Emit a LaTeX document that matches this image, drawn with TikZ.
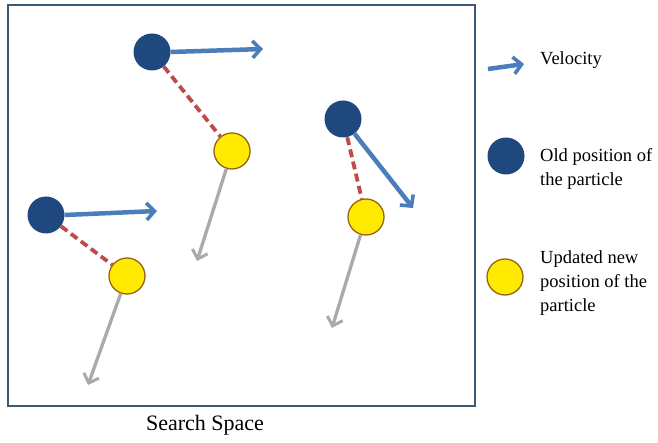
\documentclass[tikz,border=0pt]{standalone}
\usepackage{fontspec}
\setmainfont{Liberation Serif}
\usetikzlibrary{arrows.meta}
\definecolor{oldblue}{RGB}{30,72,126}
\definecolor{velblue}{RGB}{74,126,187}
\definecolor{dashred}{RGB}{190,75,72}
\definecolor{newyellow}{RGB}{255,234,0}
\definecolor{newrim}{RGB}{150,100,20}
\definecolor{movegray}{RGB}{170,170,170}
\definecolor{frame}{RGB}{60,88,120}
\tikzset{
  oldpos/.style={circle, fill=oldblue, inner sep=0pt, minimum size=37pt},
  newpos/.style={circle, fill=newyellow, draw=newrim, line width=1.3pt, inner sep=0pt, minimum size=36pt},
  velarrow/.style={velblue, line width=4.5pt, -{Straight Barb[length=8pt,width=17pt,line width=3.6pt]}},
  movearrow/.style={movegray, line width=3.3pt, -{Straight Barb[length=8pt,width=16pt,line width=3pt]}},
  jumpline/.style={dashred, line width=3.8pt, dash pattern=on 8pt off 4.5pt},
  legendtext/.style={anchor=west, align=left, font=\fontsize{18.5}{24}\selectfont, inner sep=0pt}
}
\begin{document}
\begin{tikzpicture}[x=1pt, y=-1pt]
  \useasboundingbox (0,0) rectangle (658,443);
  % search space frame
  \node[draw=frame, line width=1.8pt, minimum width=467pt, minimum height=401pt, inner sep=0pt, anchor=north west] (space) at (7,4) {};
  \node[font=\fontsize{22}{24}\selectfont] (spacelabel) at (205,425) {Search Space};

  % particle A (top)
  \node[oldpos] (a0) at (152,52) {};
  \node[newpos] (a1) at (232,151) {};
  \coordinate (av) at (263,49);
  \coordinate (am) at (197,261);
  \draw[jumpline] (a0) -- (a1);
  \draw[velarrow] (a0.east) -- (av);
  \draw[movearrow] (a1) -- (am);

  % particle B (left)
  \node[oldpos] (b0) at (46,215) {};
  \node[newpos] (b1) at (127,276) {};
  \coordinate (bv) at (157,211);
  \coordinate (bm) at (88,385);
  \draw[jumpline] (b0) -- (b1);
  \draw[velarrow] (b0.east) -- (bv);
  \draw[movearrow] (b1) -- (bm);

  % particle C (right)
  \node[oldpos] (c0) at (343,119) {};
  \node[newpos] (c1) at (366,217) {};
  \coordinate (cv) at (413,208);
  \coordinate (cm) at (332,328);
  \draw[jumpline] (c0) -- (c1);
  \draw[velarrow] (c0) -- (cv);
  \draw[movearrow] (c1) -- (cm);

  % legend
  \coordinate (lv0) at (488,69);
  \coordinate (lv1) at (524,64);
  \draw[velarrow] (lv0) -- (lv1);
  \node[legendtext] (lvt) at (540,60) {Velocity};
  \node[oldpos] (lo) at (506,156) {};
  \node[legendtext] (lot) at (540,169) {Old position of\\the particle};
  \node[newpos] (ln) at (505,277) {};
  \node[legendtext] (lnt) at (540,283) {Updated new\\position of the\\particle};
\end{tikzpicture}
\end{document}
